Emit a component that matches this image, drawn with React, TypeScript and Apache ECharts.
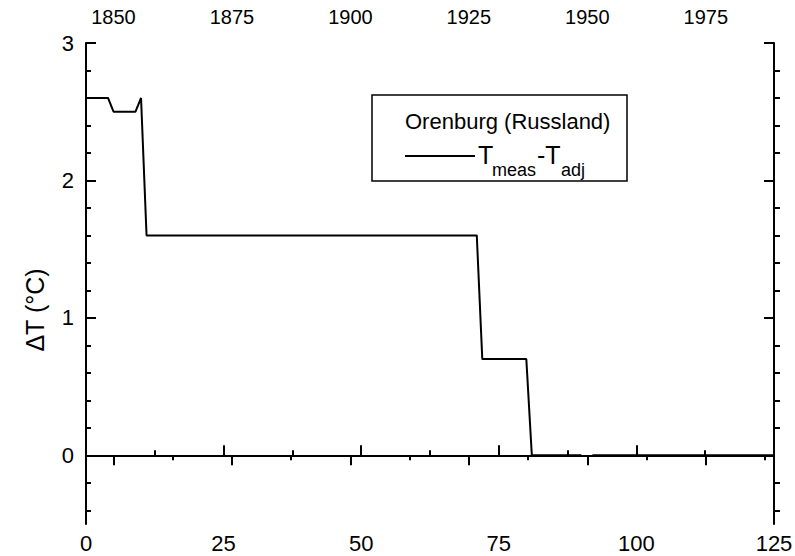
import React, { useEffect, useRef } from "react";
import * as echarts from "echarts";

// Data breakpoints (yearly series; linear between listed years)
const yearIndex = [0, 4, 5, 9, 10, 11, 71, 72, 80, 81, 90, 91, 92, 125];
const deltaT = [2.6, 2.6, 2.5, 2.5, 2.6, 1.6, 1.6, 0.7, 0.7, 0, 0, null, 0, 0];

// Axis ticks
const bottomMin = 0;
const bottomMax = 125;
const bottomInterval = 25;
const topMin = 1844.2;
const topMax = 1989.4;
const topYears = [1850, 1875, 1900, 1925, 1950, 1975];
const topMinorYears = [1862.5, 1887.5, 1912.5, 1937.5, 1962.5, 1987.5];
const yMin = -0.5;
const yMax = 3;
const yMajor = [0, 1, 2, 3];
const yMinor = [-0.4, -0.2, 0.2, 0.4, 0.6, 0.8, 1.2, 1.4, 1.6, 1.8, 2.2, 2.4, 2.6, 2.8];

const legendTitle = "Orenburg (Russland)";
const yName = "ΔT (°C)";

const FONT = "'Liberation Sans', Arial, Helvetica, sans-serif";
const BLACK = "#000";

export default function App() {
  const ref = useRef<HTMLDivElement>(null);

  useEffect(() => {
    if (!ref.current) return;
    const chart = echarts.init(ref.current, undefined, { renderer: "svg" });

    const line = { lineStyle: { color: BLACK, width: 2 } };
    const noSplit = { show: false };
    const tickLabel = {
      color: BLACK,
      fontSize: 22,
      fontFamily: FONT,
      formatter: (v: number) => String(v),
    };

    const data = yearIndex.map((x, i) => [x, deltaT[i]]);

    chart.setOption({
      animation: false,
      backgroundColor: "#fff",
      grid: { left: 86, right: 21, top: 43, bottom: 32, containLabel: false, outerBoundsMode: "none" },
      xAxis: [
        {
          type: "value",
          position: "bottom",
          min: bottomMin,
          max: bottomMax,
          interval: bottomInterval,
          axisLine: { show: true, ...line },
          axisTick: { show: true, inside: true, length: 10, ...line },
          minorTick: { show: true, splitNumber: 2, length: 5, ...line },
          axisLabel: { ...tickLabel, margin: 8 },
          splitLine: noSplit,
          minorSplitLine: noSplit,
        },
        {
          type: "value",
          position: "top",
          min: topMin,
          max: topMax,
          axisLine: { show: true, ...line },
          axisTick: { show: true, inside: true, length: 10, customValues: topYears, ...line },
          axisLabel: { ...tickLabel, fontSize: 20, margin: 16, customValues: topYears },
          splitLine: noSplit,
        },
        {
          type: "value",
          position: "top",
          min: topMin,
          max: topMax,
          axisLine: { show: false },
          axisTick: { show: true, inside: true, length: 5, customValues: topMinorYears, ...line },
          axisLabel: { show: false },
          splitLine: noSplit,
        },
      ],
      yAxis: [
        {
          type: "value",
          position: "left",
          min: yMin,
          max: yMax,
          axisLine: { show: true, ...line },
          axisTick: { show: true, inside: true, length: 10, customValues: yMajor, ...line },
          axisLabel: { ...tickLabel, margin: 12, customValues: yMajor },
          splitLine: noSplit,
        },
        {
          type: "value",
          position: "left",
          min: yMin,
          max: yMax,
          axisLine: { show: false },
          axisTick: { show: true, inside: true, length: 5, customValues: yMinor, ...line },
          axisLabel: { show: false },
          splitLine: noSplit,
        },
        {
          type: "value",
          position: "right",
          min: yMin,
          max: yMax,
          axisLine: { show: true, ...line },
          axisTick: { show: true, inside: true, length: 10, customValues: yMajor, ...line },
          axisLabel: { show: false },
          splitLine: noSplit,
        },
        {
          type: "value",
          position: "right",
          min: yMin,
          max: yMax,
          axisLine: { show: false },
          axisTick: { show: true, inside: false, length: 6, customValues: yMinor, ...line },
          axisLabel: { show: false },
          splitLine: noSplit,
        },
      ],
      series: [
        {
          type: "line",
          xAxisIndex: 0,
          yAxisIndex: 0,
          data,
          showSymbol: false,
          symbol: "none",
          connectNulls: false,
          lineStyle: { color: BLACK, width: 2 },
          silent: true,
        },
      ],
      graphic: [
        {
          type: "text",
          x: 35,
          y: 310,
          rotation: Math.PI / 2,
          style: {
            text: yName,
            fill: BLACK,
            font: `25px ${FONT}`,
            align: "center",
            verticalAlign: "middle",
          },
        },
        {
          type: "rect",
          shape: { x: 372, y: 95, width: 255, height: 86 },
          style: { fill: "#fff", stroke: BLACK, lineWidth: 1.5 },
          z: 10,
        },
        {
          type: "text",
          x: 405,
          y: 121,
          z: 11,
          style: { text: legendTitle, fill: BLACK, font: `22px ${FONT}`, verticalAlign: "middle" },
        },
        {
          type: "line",
          z: 11,
          shape: { x1: 405, y1: 156, x2: 475, y2: 156 },
          style: { stroke: BLACK, lineWidth: 2 },
        },
        {
          type: "text",
          x: 478,
          y: 155,
          z: 11,
          style: { text: "T", fill: BLACK, font: `25px ${FONT}`, verticalAlign: "middle" },
        },
        {
          type: "text",
          x: 492,
          y: 170,
          z: 11,
          style: { text: "meas", fill: BLACK, font: `18px ${FONT}`, verticalAlign: "middle" },
        },
        {
          type: "text",
          x: 537,
          y: 155,
          z: 11,
          style: { text: "-T", fill: BLACK, font: `25px ${FONT}`, verticalAlign: "middle" },
        },
        {
          type: "text",
          x: 561,
          y: 170,
          z: 11,
          style: { text: "adj", fill: BLACK, font: `18px ${FONT}`, verticalAlign: "middle" },
        },
      ],
    });

    return () => chart.dispose();
  }, []);

  return (
    <div
      ref={ref}
      style={{ position: "fixed", left: 0, top: 0, width: 795, height: 556, background: "#fff" }}
    />
  );
}
